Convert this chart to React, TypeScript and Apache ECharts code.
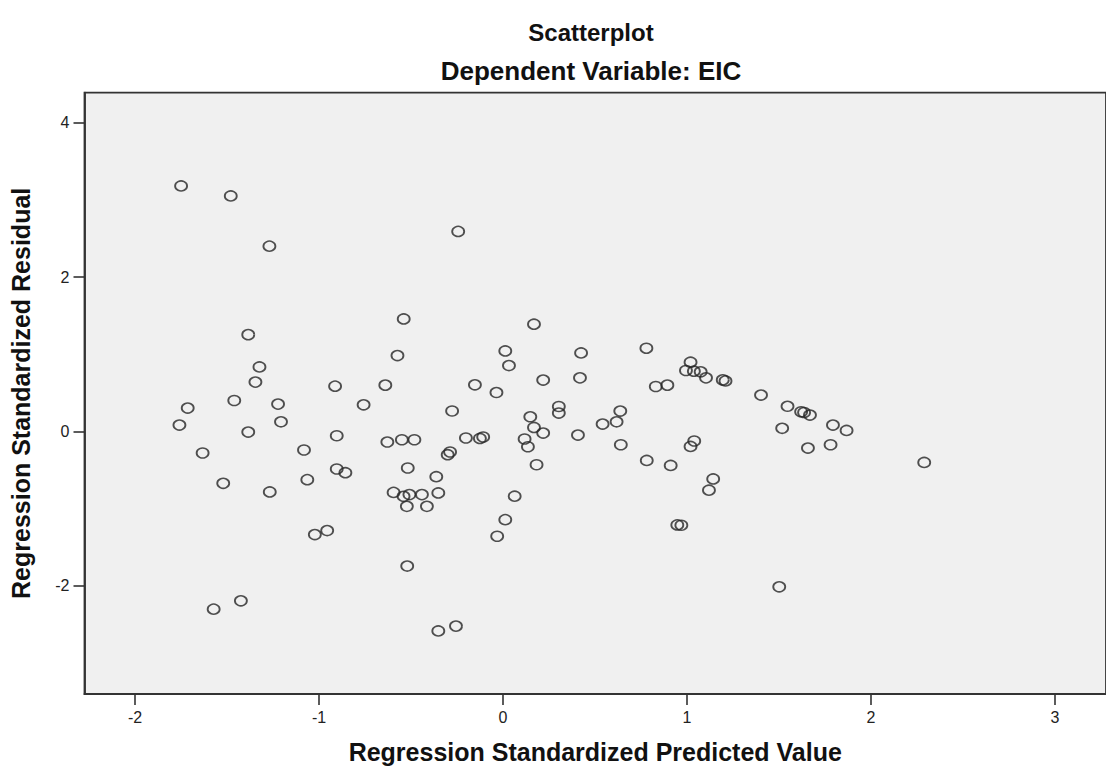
import React, { useEffect, useRef } from "react";
import * as echarts from "echarts";

// Regression Standardized Predicted Value (x) and Residual (y)
const predictedValues = [
  -1.75, -1.48, -1.27, -0.54, -1.385, -0.574, -1.324, -1.346, -0.913, -0.64,
  -1.714, -1.461, -1.223, -0.758, -1.759, -1.207, -1.385, -0.904, -0.629, -0.55,
  -0.482, -1.633, -1.082, -0.904, -0.857, -0.518, -0.363, -1.521, -1.268, -1.064,
  -0.595, -0.541, -0.509, -0.441, -0.523, -0.414, -0.352, -1.023, -0.956, -0.521,
  -1.425, -1.573, -0.352,
  -0.244, 0.168, 0.012, 0.032, 0.424, 0.418, 0.779, 0.218, -0.153, -0.036,
  1.019, 0.994, 1.037, 1.074, 1.103, 1.194, 1.209, 0.83, 0.893, 1.402,
  1.546, 1.517, -0.277, 0.303, 0.303, 0.148, 0.168, 0.218, 0.407, 0.541,
  0.617, 0.637, 0.64, -0.202, -0.126, -0.108, 0.117, 0.135, -0.288, -0.301,
  0.182, 0.781, 0.911, 1.019, 1.039, 1.142, 1.119, 0.063, 0.012, -0.032,
  -0.256, 0.947, 0.969, 1.501,
  1.62, 1.636, 1.668, 1.793, 1.867, 1.657, 1.78, 2.289,
];
const residualValues = [
  3.18, 3.05, 2.4, 1.457, 1.254, 0.983, 0.836, 0.639, 0.587, 0.6,
  0.303, 0.401, 0.354, 0.345, 0.083, 0.125, -0.008, -0.056, -0.137, -0.107,
  -0.107, -0.279, -0.24, -0.486, -0.534, -0.473, -0.586, -0.672, -0.783, -0.624,
  -0.789, -0.84, -0.818, -0.818, -0.97, -0.97, -0.796, -1.335, -1.284, -1.743,
  -2.193, -2.301, -2.583,
  2.591, 1.389, 1.043, 0.853, 1.017, 0.694, 1.078, 0.665, 0.604, 0.504,
  0.897, 0.789, 0.781, 0.772, 0.694, 0.668, 0.655, 0.582, 0.6, 0.471,
  0.326, 0.041, 0.265, 0.323, 0.238, 0.19, 0.052, -0.021, -0.047, 0.096,
  0.125, 0.264, -0.172, -0.085, -0.09, -0.072, -0.098, -0.198, -0.266, -0.301,
  -0.431, -0.375, -0.44, -0.194, -0.124, -0.615, -0.76, -0.838, -1.142, -1.357,
  -2.521, -1.21, -1.215, -2.012,
  0.255, 0.246, 0.212, 0.083, 0.013, -0.215, -0.172, -0.401,
];

const xTickValues = [-2, -1, 0, 1, 2, 3];
const yTickValues = [-2, 0, 2, 4];

const chartTitle = "Scatterplot";
const chartSubtitle = "Dependent Variable: EIC";
const xAxisTitle = "Regression Standardized Predicted Value";
const yAxisTitle = "Regression Standardized Residual";

const FONT = "'Liberation Sans', Arial, Helvetica, sans-serif";

export default function App() {
  const ref = useRef<HTMLDivElement>(null);

  useEffect(() => {
    if (!ref.current) return;
    const chart = echarts.init(ref.current, null, { renderer: "svg" });
    const points = predictedValues.map((x, i) => [x, residualValues[i]]);

    const axisNameStyle = {
      fontFamily: FONT,
      fontWeight: "bold",
      fontSize: 25,
      color: "#111",
    };
    const labelStyle = {
      margin: 15,
      fontFamily: FONT,
      fontSize: 16,
      color: "#222",
    };

    chart.setOption({
      animation: false,
      backgroundColor: "#ffffff",
      graphic: [
        {
          type: "text",
          x: 591,
          y: 32,
          style: {
            text: chartTitle,
            textAlign: "center",
            textVerticalAlign: "middle",
            font: `bold 24px ${FONT}`,
            fill: "#111",
          },
        },
        {
          type: "text",
          x: 591,
          y: 71,
          style: {
            text: chartSubtitle,
            textAlign: "center",
            textVerticalAlign: "middle",
            font: `bold 26px ${FONT}`,
            fill: "#111",
          },
        },
      ],
      grid: {
        left: 84.5,
        top: 92.7,
        width: 1026,
        height: 602.3,
        show: true,
        backgroundColor: "#f0f0f0",
        borderColor: "#333",
        borderWidth: 1.8,
        containLabel: false,
      },
      xAxis: {
        type: "value",
        min: -2.275,
        max: 3.277,
        name: xAxisTitle,
        nameLocation: "middle",
        nameGap: 45,
        nameTextStyle: axisNameStyle,
        axisLine: { show: true, onZero: false, lineStyle: { color: "#333", width: 1.8 } },
        axisTick: {
          show: true,
          length: 11,
          customValues: xTickValues,
          lineStyle: { color: "#333", width: 1.6 },
        },
        axisLabel: { ...labelStyle, customValues: xTickValues },
        splitLine: { show: false },
      },
      yAxis: {
        type: "value",
        min: -3.4,
        max: 4.387,
        name: yAxisTitle,
        nameLocation: "middle",
        nameGap: 51,
        nameTextStyle: axisNameStyle,
        axisLine: { show: true, onZero: false, lineStyle: { color: "#333", width: 1.8 } },
        axisTick: {
          show: true,
          length: 11,
          customValues: yTickValues,
          lineStyle: { color: "#333", width: 1.6 },
        },
        axisLabel: { ...labelStyle, customValues: yTickValues },
        splitLine: { show: false },
      },
      series: [
        {
          type: "scatter",
          data: points,
          symbol: "circle",
          symbolSize: [12, 10],
          itemStyle: {
            color: "rgba(0,0,0,0)",
            borderColor: "#262626",
            borderWidth: 1.7,
          },
          emphasis: { disabled: true },
        },
      ],
    });

    return () => chart.dispose();
  }, []);

  return (
    <div
      ref={ref}
      style={{ position: "absolute", left: 0, top: 0, width: 1106, height: 769 }}
    />
  );
}
